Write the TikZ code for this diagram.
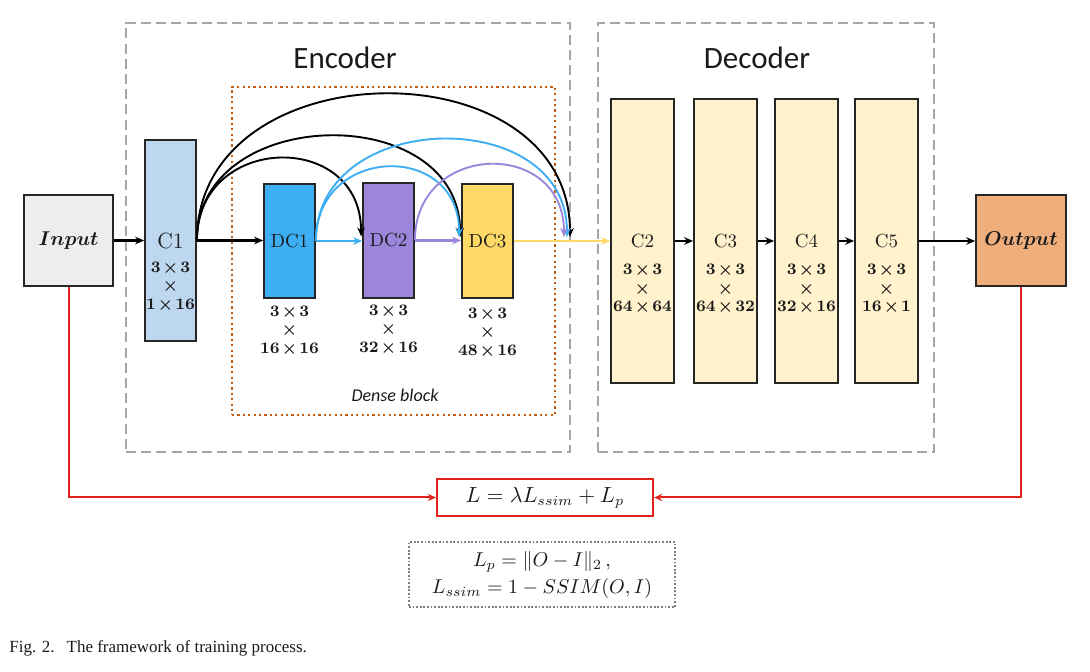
\documentclass[tikz,border=0pt]{standalone}
\usepackage{fontspec}
\usepackage{amsmath}
\newfontfamily\calibri{Carlito}
\newfontfamily\timesfont{Liberation Serif}
\usetikzlibrary{arrows.meta,calc}
\newcommand{\tx}{\mkern2mu{\times}\mkern2mu}
\definecolor{inpfill}{HTML}{EDEDED}
\definecolor{cfill}{HTML}{BDD7EE}
\definecolor{dcblue}{HTML}{3DAEF2}
\definecolor{dcpurple}{HTML}{9B86DB}
\definecolor{dcyellow}{HTML}{FFD966}
\definecolor{decfill}{HTML}{FFF2CC}
\definecolor{outfill}{HTML}{F1AE7D}
\definecolor{boxline}{HTML}{262626}
\definecolor{txt}{HTML}{1A1A1A}
\definecolor{dashgray}{HTML}{A6A6A6}
\definecolor{densec}{HTML}{C55A11}
\definecolor{lossred}{HTML}{E3221C}
\definecolor{fgray}{HTML}{7F7F7F}
\begin{document}
\begin{tikzpicture}[x=0.5pt,y=-0.5pt,
  blk/.style={draw=boxline, line width=0.9pt, inner sep=0pt, text=txt},
  clbl/.style={font=\fontsize{9.5}{11}\selectfont},
  iolbl/.style={font=\fontsize{10}{12}\selectfont\boldmath},
  dims/.style={align=center, inner sep=0pt, text=txt, font=\fontsize{8}{9.25}\selectfont\boldmath},
  arr/.style={-{Stealth[length=4.5pt,width=3.8pt]}, line width=1.1pt},
  carr/.style={-{Stealth[length=4.5pt,width=3.8pt]}, line width=1.4pt},
  arc/.style={-{Stealth[length=4.5pt,width=3.8pt]}, line width=0.95pt},
  redarr/.style={-{Stealth[length=4pt,width=3.5pt]}, line width=1pt, draw=lossred, color=lossred},
  dashbox/.style={draw=dashgray, line width=1.4pt, dash pattern=on 5pt off 2.6pt, inner sep=0pt},
  title/.style={font=\calibri\fontsize{15.5}{18}\selectfont, text=txt}
]
\useasboundingbox (0,0) rectangle (1090,672);

% frames
\node[dashbox, minimum width=222pt, minimum height=214.5pt] (encbox) at (348,237.5) {};
\node[dashbox, minimum width=168pt, minimum height=214.5pt] (decbox) at (766,237.5) {};
\node[draw=densec, line width=1.1pt, dash pattern=on 1.1pt off 1.6pt, minimum width=161.5pt, minimum height=164pt, inner sep=0pt] (dense) at (393.5,251) {};
\node[title] (enc) at (345,58) {Encoder};
\node[title] (dec) at (757,58) {Decoder};
\node[font=\calibri\itshape\fontsize{9}{11}\selectfont, text=txt] (dbl) at (395,395) {Dense block};

% blocks
\node[blk, iolbl, fill=inpfill, minimum width=44.5pt, minimum height=45.5pt] (inp) at (68.5,240.5) {$Input$};
\node[blk, fill=cfill, minimum width=25.5pt, minimum height=100.5pt, font=\fontsize{11}{12}\selectfont] (c1) at (170.5,240.5) {C1};
\node[dims] (c1d) at (170.5,287) {$3\tx3$\\$\times$\\$1\tx16$};

\node[blk, fill=dcblue, minimum width=25.5pt, minimum height=57pt, clbl] (dc1) at (289.5,241) {DC1};
\node[blk, fill=dcpurple, minimum width=25.5pt, minimum height=57.5pt, clbl] (dc2) at (388.5,240.5) {DC2};
\node[blk, fill=dcyellow, minimum width=25.5pt, minimum height=57pt, clbl] (dc3) at (487.5,241) {DC3};
\node[dims] (dc1d) at (289.5,331) {$3\tx3$\\$\times$\\$16\tx16$};
\node[dims] (dc2d) at (388.5,330) {$3\tx3$\\$\times$\\$32\tx16$};
\node[dims] (dc3d) at (487.5,333) {$3\tx3$\\$\times$\\$48\tx16$};

\node[blk, fill=decfill, minimum width=31.5pt, minimum height=142pt, clbl] (c2) at (642.5,241) {C2};
\node[blk, fill=decfill, minimum width=31.5pt, minimum height=142pt, clbl] (c3) at (725.5,241) {C3};
\node[blk, fill=decfill, minimum width=31.5pt, minimum height=142pt, clbl] (c4) at (806.5,241) {C4};
\node[blk, fill=decfill, minimum width=31.5pt, minimum height=142pt, clbl] (c5) at (886.5,241) {C5};
\node[dims] (c2d) at (642.5,289.5) {$3\tx3$\\$\times$\\$64\tx64$};
\node[dims] (c3d) at (725.5,289.5) {$3\tx3$\\$\times$\\$64\tx32$};
\node[dims] (c4d) at (806.5,289.5) {$3\tx3$\\$\times$\\$32\tx16$};
\node[dims] (c5d) at (886.5,289.5) {$3\tx3$\\$\times$\\$16\tx1$};

\node[blk, iolbl, fill=outfill, minimum width=45pt, minimum height=45.5pt] (outp) at (1021,240.5) {$Output$};

% loss
\node[draw=lossred, line width=1.1pt, minimum width=108pt, minimum height=18.5pt, inner sep=0pt, text=txt, font=\fontsize{10.5}{12}\selectfont] (loss) at (545,497.5) {$L=\lambda L_{ssim}+L_p$};
\node[draw=fgray, line width=0.9pt, dash pattern=on 0.9pt off 0.9pt, minimum width=133pt, minimum height=32.5pt, inner sep=0pt, align=center, text=txt, font=\fontsize{10}{13.5}\selectfont] (form) at (542,574.5) {$L_p=\|O-I\|_2\,,$\\$L_{ssim}=1-SSIM(O,I)$};

% caption
\node[anchor=west, inner sep=0pt, font=\timesfont\fontsize{8.5}{10}\selectfont, text=txt] (cap) at (9,648) {Fig. 2.\hspace{0.7em}The framework of training process.};

% coordinates
\coordinate (t2) at ($(dc2.west)+(-1,-4)$);
\coordinate (t3) at ($(dc3.west)+(-1,-4)$);
\coordinate (cat) at (568,237);

% straight connectors
\draw[arr] (inp.east) -- (c1.west);
\draw[arr] (c1.east) -- (c1.east -| dc1.west);
\draw[carr, draw=dcblue, color=dcblue] (dc1.east) -- (dc1.east -| dc2.west);
\draw[carr, draw=dcpurple, color=dcpurple] (dc2.east) -- (dc2.east -| dc3.west);
\draw[arr, draw=dcyellow, color=dcyellow] (dc3.east) -- (dc3.east -| c2.west);
\draw[arr] (c2.east) -- (c3.west);
\draw[arr] (c3.east) -- (c4.west);
\draw[arr] (c4.east) -- (c5.west);
\draw[arr] (c5.east) -- (c5.east -| outp.west);

% dense arcs
\draw[arc] (c1.east) .. controls +(0,-107) and +(0,-107) .. (t2);
\draw[arc] (c1.east) .. controls +(0,-137) and +(0,-137) .. (t3);
\draw[arc] (c1.east) .. controls +(0,-193) and +(0,-193) .. ($(cat)+(2,0)$);
\draw[arc, draw=dcblue, color=dcblue] (dc1.east) .. controls +(0,-96) and +(0,-96) .. ($(t3)+(-1,0)$);
\draw[arc, draw=dcblue, color=dcblue] (dc1.east) .. controls +(0,-133) and +(0,-133) .. ($(cat)+(-1,0)$);
\draw[arc, draw=dcpurple, color=dcpurple] (dc2.east) .. controls +(0,-99) and +(0,-99) .. ($(cat)+(-4,0)$);

% loss connectors
\draw[redarr] (inp.south) |- (loss.west);
\draw[redarr] (outp.south) |- (loss.east);
\end{tikzpicture}
\end{document}
